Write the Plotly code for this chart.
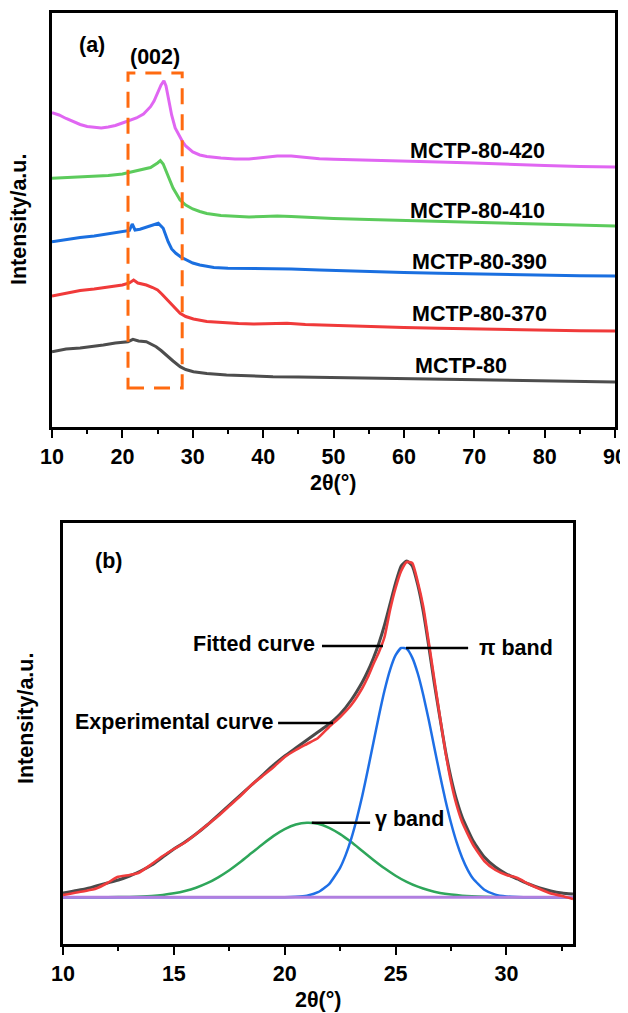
import plotly.graph_objects as go

# ---------------- Panel (a) data: XRD patterns (offset, a.u.) ----------------
th_420 = [10, 11, 12, 13, 14, 15, 16, 17, 18, 19, 20, 21, 22, 23, 24, 24.5, 25, 25.5, 25.9, 26.2, 26.5, 27, 27.5, 28, 28.5, 29, 30, 31, 32, 34, 36, 38, 40, 42, 44, 46, 48, 50, 55, 60, 65, 70, 75, 80, 85, 90]
i_420 = [314.3, 312, 308.5, 305.3, 302.5, 300.5, 299.5, 299, 300, 301.5, 304, 306.5, 309, 313, 320.3, 326, 334, 342, 346.3, 341, 330.3, 312, 299, 292, 286, 281, 275, 272, 270.5, 269, 268, 268, 269.5, 271, 271, 269.5, 268.3, 267.7, 267, 266, 265, 264, 262.5, 261.5, 260.5, 260]

th_410 = [10, 12, 14, 16, 18, 20, 21, 22, 23, 24, 25, 25.4, 25.8, 26.2, 26.7, 27.2, 27.7, 28.2, 29, 30, 31, 32, 34, 36, 38, 40, 42, 44, 46, 48, 50, 55, 60, 65, 70, 75, 80, 85, 90]
i_410 = [248.7, 249.5, 250, 250.5, 251.5, 253, 254.5, 256, 257.5, 259.5, 264, 266.3, 263, 256, 247, 239, 233, 227, 222, 218, 215.5, 213.5, 211.5, 210.5, 210, 210.5, 211, 210.5, 209.7, 209, 208.5, 207.5, 206.5, 205.5, 204.5, 203.5, 202.5, 201.5, 201]

th_390 = [10, 12, 14, 16, 18, 20, 21, 21.4, 21.8, 22.5, 23.5, 24.5, 25.1, 25.8, 26.5, 27, 27.6, 28.3, 29.1, 30, 31, 33, 35, 38, 41, 44, 48, 50, 55, 60, 65, 70, 75, 80, 85, 90]
i_390 = [185.3, 187.5, 189.5, 191, 193, 195, 196.5, 203, 197, 197.7, 200, 202.5, 203.7, 198.7, 185.3, 178, 173.7, 170, 167, 164, 162, 159.5, 158.7, 158.5, 158.7, 158, 157, 156.5, 155.5, 154.5, 153.7, 153, 152.3, 151.7, 151.2, 151]

th_370 = [10, 12, 14, 16, 18, 20, 21, 21.6, 22.2, 23.4, 24.3, 25, 25.6, 26.2, 27.2, 28.2, 29, 30.1, 32, 34, 36.5, 38.6, 41, 43.4, 46, 48, 50, 55, 60, 65, 70, 75, 80, 85, 90]
i_370 = [131, 134, 136.5, 138, 140, 142, 144, 147, 144, 142, 139.5, 137, 133, 128.7, 121, 113.7, 110.5, 108, 105.5, 104.3, 103.5, 103, 103.5, 103.7, 102.5, 102, 101.5, 100.5, 99.5, 98.7, 98, 97.3, 96.7, 96.2, 96]

th_80 = [10, 12, 14, 16, 17.3, 19, 20.8, 21.5, 22.3, 23.4, 24.8, 25.5, 26.2, 27.2, 28.2, 29, 30.1, 32, 34.8, 38, 41.4, 45, 48, 50, 55, 60, 65, 70, 75, 80, 85, 90]
i_80 = [75.3, 78, 79, 80.5, 82, 84, 85.3, 87.7, 86, 85.3, 80.3, 76.5, 72, 66, 60.3, 57.5, 55.3, 53.5, 52, 51, 50.3, 50, 49.7, 49.4, 48.8, 48.2, 47.6, 47, 46.4, 45.8, 45.4, 45]

names_a = ["MCTP-80-420", "MCTP-80-410", "MCTP-80-390", "MCTP-80-370", "MCTP-80"]
box_002_x = [20.8, 28.5]
box_002_y = [39, 354]

# ---------------- Panel (b) data: peak fitting ----------------
th_exp = [10, 11, 11.5, 12, 12.45, 13, 13.4, 14, 14.5, 15, 15.5, 16, 16.5, 17, 17.5, 18, 18.5, 19, 19.5, 20, 20.5, 21, 21.5, 22, 22.5, 23, 23.5, 23.75, 24, 24.25, 24.5, 24.75, 25, 25.25, 25.5, 25.75, 26, 26.25, 26.5, 26.75, 27, 27.25, 27.5, 27.75, 28, 28.5, 29, 29.5, 30, 30.5, 31, 31.5, 32, 32.5, 33]
i_exp = [49, 53, 55.5, 61, 67, 69, 71, 80, 88, 95, 101.5, 110, 119, 128, 138, 148, 159, 168, 177, 187, 194, 200, 206, 217, 227, 239, 256, 267, 280, 292, 307, 334, 356, 373, 382, 381, 362, 337, 301, 264, 227, 192, 162, 139, 122, 99, 83, 74, 69, 66, 60, 55, 50.5, 48, 45]

th_fit = [10, 11, 11.5, 12, 12.5, 13, 13.5, 14, 14.5, 15, 15.5, 16, 16.5, 17, 17.5, 18, 18.5, 19, 19.5, 20, 20.5, 21, 21.5, 22, 22.5, 23, 23.5, 23.75, 24, 24.25, 24.5, 24.75, 25, 25.25, 25.5, 25.75, 26, 26.25, 26.5, 26.75, 27, 27.25, 27.5, 27.75, 28, 28.5, 29, 29.5, 30, 30.5, 31, 31.5, 32, 32.5, 33]
i_fit = [51, 55, 58, 61, 64, 68, 73, 79, 87, 95, 102, 110, 119, 129, 139, 149, 159, 169, 179, 188, 196, 204, 212, 220, 230, 244, 262, 273, 286, 301, 319, 340, 361, 378, 383, 378, 359, 332, 297, 260, 226, 193, 166, 144, 127, 103, 87, 77, 70, 65, 60, 56, 53, 51, 50]

th_pi = [10, 20, 20.5, 21, 21.5, 22, 22.5, 22.75, 23, 23.25, 23.5, 23.75, 24, 24.25, 24.5, 24.75, 25, 25.25, 25.5, 25.75, 26, 26.25, 26.5, 26.75, 27, 27.25, 27.5, 27.75, 28, 28.25, 28.5, 29, 29.5, 30, 30.5, 31, 33]
i_pi = [46.7, 46.7, 47.2, 48.4, 51.8, 59.9, 76.4, 89.1, 105.4, 125.3, 148.5, 174.4, 201.6, 228.6, 253.5, 274.2, 288.8, 296.0, 295.2, 286.4, 270.5, 248.8, 223.4, 196.1, 169.0, 143.6, 121.0, 101.8, 86.3, 74.2, 65.2, 54.3, 49.4, 47.6, 47.0, 46.7, 46.7]

th_gam = [10, 11, 12, 13, 14, 14.5, 15, 15.5, 16, 16.5, 17, 17.5, 18, 18.5, 19, 19.5, 20, 20.5, 21, 21.5, 22, 22.5, 23, 23.5, 24, 24.5, 25, 25.5, 26, 26.5, 27, 27.5, 28, 29, 30, 31, 32, 33]
i_gam = [46.7, 46.7, 46.8, 47.1, 48.1, 49.1, 50.7, 53.0, 56.3, 60.8, 66.7, 73.8, 82.0, 90.9, 99.8, 108.1, 114.9, 119.5, 121.3, 120.2, 116.2, 109.9, 101.9, 93.0, 84.1, 75.7, 68.3, 62.1, 57.3, 53.7, 51.1, 49.4, 48.3, 47.2, 46.8, 46.7, 46.7, 46.7]

th_base = [10, 33]
i_base = [46.7, 46.7]

# ---------------- styling / layout ----------------
W, H = 628, 1013
OX, OY = 8, 8          # page body margin offset
FONT = "Liberation Sans, Arial, Helvetica, sans-serif"
FS = 21.5

def pxx(p):
    return (p - OX) / W

def pxy(p):
    return 1 - (p - OY) / H

cols_a = ["#E066F2", "#5CCB5C", "#1A6FE0", "#F03A3A", "#4D4D4D"]
series_a = [(th_420, i_420), (th_410, i_410), (th_390, i_390), (th_370, i_370), (th_80, i_80)]
label_pos_a = [(70.5, 276), (70.5, 216), (70.8, 165), (70.8, 113), (68.1, 61)]

fig = go.Figure()
for (tx, iy), c in zip(series_a, cols_a):
    fig.add_trace(go.Scatter(x=tx, y=iy, mode="lines", line=dict(color=c, width=3),
                             xaxis="x", yaxis="y", showlegend=False, hoverinfo="skip"))

fig.add_trace(go.Scatter(x=th_gam, y=i_gam, mode="lines", line=dict(color="#2EA65A", width=2.5, shape="spline", smoothing=0.5),
                         xaxis="x2", yaxis="y2", showlegend=False))
fig.add_trace(go.Scatter(x=th_pi, y=i_pi, mode="lines", line=dict(color="#1E6FE6", width=2.5, shape="spline", smoothing=0.5),
                         xaxis="x2", yaxis="y2", showlegend=False))
fig.add_trace(go.Scatter(x=th_base, y=i_base, mode="lines", line=dict(color="#B07FE0", width=3),
                         xaxis="x2", yaxis="y2", showlegend=False))
fig.add_trace(go.Scatter(x=th_fit, y=i_fit, mode="lines", line=dict(color="#4A4A4A", width=3, shape="spline", smoothing=0.5),
                         xaxis="x2", yaxis="y2", showlegend=False))
fig.add_trace(go.Scatter(x=th_exp, y=i_exp, mode="lines", line=dict(color="#F03C3C", width=2.6, shape="spline", smoothing=0.5),
                         xaxis="x2", yaxis="y2", showlegend=False))

tickfont = dict(family=FONT, size=FS, color="black", weight="bold")
xcommon = dict(showgrid=False, zeroline=False, showline=True, linecolor="black", linewidth=2.5,
               mirror=True, ticks="outside", ticklen=8, tickwidth=2, tickcolor="black",
               tickfont=tickfont, automargin=False)
ycommon = dict(showgrid=False, zeroline=False, showline=True, linecolor="black", linewidth=2.5,
               mirror=True, ticks="", showticklabels=False, automargin=False)

fig.update_layout(
    template="none",
    width=W, height=H, margin=dict(l=0, r=0, t=0, b=0, pad=0, autoexpand=False),
    paper_bgcolor="white", plot_bgcolor="white",
    font=dict(family=FONT, size=FS, color="black"),
    xaxis=dict(domain=[pxx(52), pxx(615)], anchor="y", range=[10, 90], tick0=10, dtick=10,
               minor=dict(dtick=5, tick0=10, ticks="outside", ticklen=4, tickwidth=2, tickcolor="black"),
               **xcommon),
    yaxis=dict(domain=[pxy(427), pxy(13)], anchor="x", range=[0, 414], **ycommon),
    xaxis2=dict(domain=[pxx(63), pxx(573)], anchor="y2", range=[10, 33], tick0=10, dtick=5,
                minor=dict(dtick=2.5, tick0=10, ticks="outside", ticklen=4, tickwidth=2, tickcolor="black"),
                **xcommon),
    yaxis2=dict(domain=[pxy(944), pxy(523)], anchor="x2", range=[0, 421], **ycommon),
)

ann = []
def txt(t, x, y, xref, yref, xanchor="center", angle=0, size=FS):
    ann.append(dict(text="<b>" + t + "</b>", x=x, y=y, xref=xref, yref=yref, xanchor=xanchor,
                    yanchor="middle", showarrow=False, textangle=angle,
                    font=dict(family=FONT, size=size, color="black")))

for n, (lx, ly) in zip(names_a, label_pos_a):
    txt(n, lx, ly, "x", "y")
txt("(a)", 15.7, 382, "x", "y")
txt("(002)", 24.6, 370, "x", "y")
txt("(b)", 12.03, 383, "x2", "y2")
txt("Fitted curve", 21.46, 300, "x2", "y2", xanchor="right")
txt("Experimental curve", 19.56, 222, "x2", "y2", xanchor="right")
txt("π band", 28.67, 296, "x2", "y2", xanchor="left")
txt("γ band", 23.97, 125, "x2", "y2", xanchor="left")

# axis titles
txt("2θ(°)", pxx((52 + 615) / 2), pxy(483), "paper", "paper")
txt("2θ(°)", pxx((63 + 573) / 2), pxy(1000), "paper", "paper")
txt("Intensity/a.u.", pxx(19), pxy(220), "paper", "paper", angle=-90)
txt("Intensity/a.u.", pxx(26), pxy(719), "paper", "paper", angle=-90)
fig.update_layout(annotations=ann)

shapes = [dict(type="rect", xref="x", yref="y", x0=box_002_x[0], x1=box_002_x[1],
               y0=box_002_y[0], y1=box_002_y[1],
               line=dict(color="#FF6A10", width=3, dash="16px,10px"))]
leaders = [((21.68, 24.43), 298), ((19.70, 22.18), 221), ((25.47, 28.27), 296), ((21.22, 23.85), 121.3)]
for (x0, x1), yy in leaders:
    shapes.append(dict(type="line", xref="x2", yref="y2", x0=x0, x1=x1, y0=yy, y1=yy,
                       line=dict(color="black", width=2.5)))
fig.update_layout(shapes=shapes)

fig.write_html("out.html")
